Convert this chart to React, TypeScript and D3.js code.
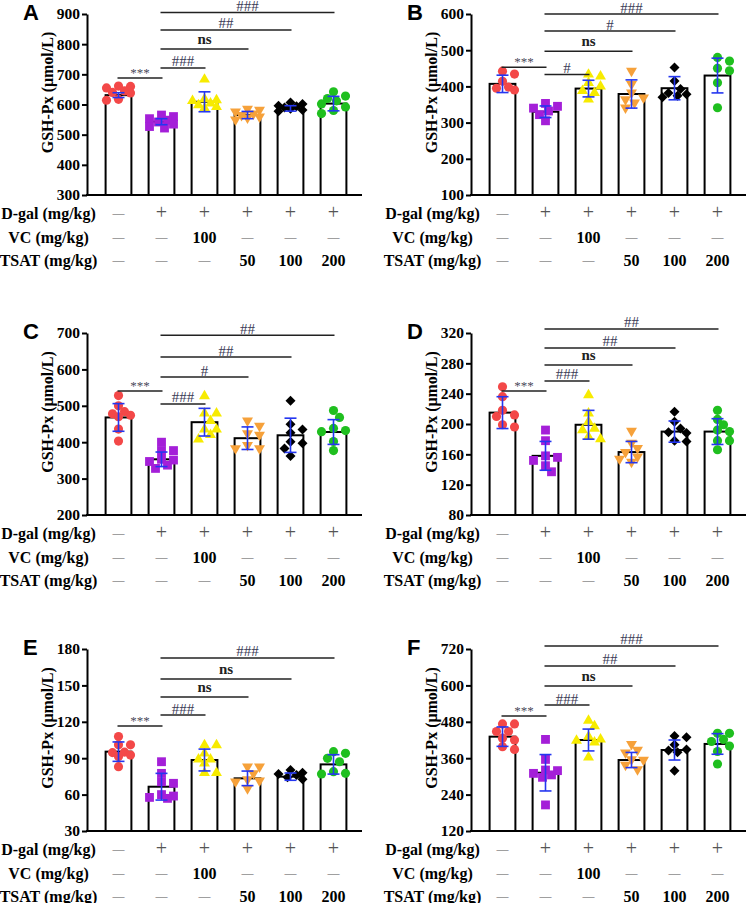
import React, { useEffect, useRef } from "react";
import * as d3 from "d3";

// table under each panel ---------------------------------------------
const tableLabels = ["D-gal (mg/kg)", "VC (mg/kg)", "TSAT (mg/kg)"];
const dgalRow = ["—", "+", "+", "+", "+", "+"];
const vcRow = ["—", "—", "100", "—", "—", "—"];
const tsatRow = ["—", "—", "—", "50", "100", "200"];

const yLabel = "GSH-Px (μmol/L)";
const groupColors = ["#f34848", "#a41fd8", "#f7eb00", "#f6a13a", "#000000", "#1fbf1f"];

// panel A
const ticksA = [300, 400, 500, 600, 700, 800, 900];
const meansA = [631, 543, 609, 565, 587, 603];
const sdA = [8, 10, 33, 12, 9, 24];
const pointsA = [
  [660, 655, 661, 640, 638, 617, 614, 645],
  [565, 560, 553, 548, 542, 535, 527, 522],
  [683, 618, 612, 604, 598, 592, 588, 615],
  [585, 582, 576, 570, 565, 560, 556, 550],
  [607, 602, 596, 590, 586, 582, 578, 594],
  [642, 628, 620, 612, 602, 592, 580, 570],
];
const sigA: [number, number, number, string][] = [
  [0, 1, 688, "***"], [1, 2, 721, "###"], [1, 3, 784, "ns"], [1, 4, 847, "##"], [1, 5, 905, "###"],
];

// panel B
const ticksB = [100, 200, 300, 400, 500, 600];
const meansB = [407, 330, 394, 379, 395, 430];
const sdB = [24, 16, 23, 39, 32, 48];
const pointsB = [
  [442, 434, 414, 398, 395, 390],
  [353, 345, 340, 332, 322, 305],
  [433, 428, 410, 400, 388, 382, 364],
  [443, 406, 383, 369, 355, 341, 364],
  [452, 415, 393, 382, 378, 370, 374],
  [480, 470, 450, 443, 410, 341],
];
const sigB: [number, number, number, string][] = [
  [0, 1, 453, "***"], [1, 2, 433, "#"], [1, 3, 497, "ns"], [1, 4, 553, "#"], [1, 5, 600, "###"],
];

// panel C
const ticksC = [200, 300, 400, 500, 600, 700];
const meansC = [468, 353, 455, 411, 419, 428];
const sdC = [38, 20, 38, 31, 47, 34];
const pointsC = [
  [528, 500, 484, 478, 474, 470, 436, 403],
  [400, 377, 377, 353, 351, 347, 337, 328],
  [527, 479, 479, 459, 435, 435, 420, 408],
  [459, 445, 424, 420, 392, 383, 383],
  [514, 449, 435, 426, 401, 397, 383, 362],
  [487, 468, 438, 432, 429, 402, 377],
];
const sigC: [number, number, number, string][] = [
  [0, 1, 541, "***"], [1, 2, 505, "###"], [1, 3, 579, "#"], [1, 4, 634, "##"], [1, 5, 694, "##"],
];

// panel D
const ticksD = [80, 120, 160, 200, 240, 280, 320];
const meansD = [215, 158, 199, 163, 190, 190];
const sdD = [21, 19, 19, 14, 14, 17];
const pointsD = [
  [249, 236, 218, 212, 210, 199, 196],
  [192, 178, 158, 156, 152, 145, 137],
  [238, 214, 203, 194, 192, 183, 180],
  [191, 175, 168, 163, 157, 150, 154],
  [216, 203, 194, 189, 188, 177, 178],
  [218, 206, 199, 192, 190, 178, 178, 166],
];
const sigD: [number, number, number, string][] = [
  [0, 1, 243.6, "***"], [1, 2, 256.8, "###"], [1, 3, 277.9, "ns"], [1, 4, 300.3, "##"], [1, 5, 325.4, "##"],
];

// panel E
const ticksE = [30, 60, 90, 120, 150, 180];
const meansE = [95.4, 66.5, 88.5, 73.4, 74.8, 84.9];
const sdE = [8, 11, 9, 6, 3, 8];
const pointsE = [
  [107.8, 101, 101, 95, 94.6, 92.6, 91.3, 83],
  [87.1, 77.5, 70.6, 69.3, 60, 58.8, 57.7, 56.9],
  [100.9, 100.9, 94, 89, 89, 85.8, 78, 78],
  [83, 83, 77.5, 72.6, 71.5, 70.6, 65.1],
  [80.3, 78, 76.1, 74.2, 72.6, 77],
  [95.4, 94, 89.9, 87.1, 78.9, 77.5, 77],
];
const sigE: [number, number, number, string][] = [
  [0, 1, 116.5, "***"], [1, 2, 125.6, "###"], [1, 3, 140.4, "ns"], [1, 4, 155.3, "ns"], [1, 5, 172.6, "###"],
];

// panel F
const ticksF = [120, 240, 360, 480, 600, 720];
const meansF = [431, 312, 420, 354, 387, 407];
const sdF = [32, 60, 36, 25, 33, 34];
const pointsF = [
  [473, 473, 448, 448, 426, 420, 398, 389],
  [422, 356, 321, 319, 310, 305, 297, 206],
  [484, 466, 431, 422, 418, 412, 363],
  [406, 387, 378, 356, 354, 338, 323],
  [433, 429, 404, 389, 385, 380, 319],
  [442, 442, 422, 415, 400, 382, 341],
];
const sigF: [number, number, number, string][] = [
  [0, 1, 499, "***"], [1, 2, 535, "###"], [1, 3, 598, "ns"], [1, 4, 664, "##"], [1, 5, 730, "###"],
];

const panels = [
  { letter: "A", ticks: ticksA, means: meansA, sd: sdA, points: pointsA, sig: sigA },
  { letter: "B", ticks: ticksB, means: meansB, sd: sdB, points: pointsB, sig: sigB },
  { letter: "C", ticks: ticksC, means: meansC, sd: sdC, points: pointsC, sig: sigC },
  { letter: "D", ticks: ticksD, means: meansD, sd: sdD, points: pointsD, sig: sigD },
  { letter: "E", ticks: ticksE, means: meansE, sd: sdE, points: pointsE, sig: sigE },
  { letter: "F", ticks: ticksF, means: meansF, sd: sdF, points: pointsF, sig: sigF },
];

// layout
const colAxisX = [87, 471];
const rowTop = [14, 333, 649];
const rowBottom = [195, 515, 831];
const SERIF = "Liberation Serif";
const SANS = "Liberation Sans";

// spreads points sideways so markers don't sit on top of each other
function spread(ys: number[], minDist: number) {
  const order = d3.range(ys.length).sort((a, b) => ys[a] - ys[b]);
  const cands = [0, 6, -6, 12, -12, 3, -3, 9, -9];
  const placed: [number, number][] = [];
  const offs = new Array(ys.length).fill(0);
  order.forEach((i) => {
    let best = 0, bestD = -1;
    for (const c of cands) {
      let d = Infinity;
      placed.forEach(([px, py]) => { d = Math.min(d, Math.hypot(px - c, py - ys[i])); });
      if (d >= minDist) { best = c; bestD = d; break; }
      if (d > bestD) { bestD = d; best = c; }
    }
    offs[i] = best;
    placed.push([best, ys[i]]);
  });
  return offs;
}

const App = () => {
  const ref = useRef<SVGSVGElement>(null);

  useEffect(() => {
    draw();
  }, []);

  function draw() {
    const svg = d3.select(ref.current);
    svg.selectAll("*").remove();

    const shapes = [
      d3.symbol().type(d3.symbolCircle).size(66),
      d3.symbol().type(d3.symbolSquare).size(78),
      d3.symbol().type(d3.symbolTriangle).size(52),
      d3.symbol().type(d3.symbolTriangle).size(52),
      d3.symbol().type(d3.symbolSquare).size(50),
      d3.symbol().type(d3.symbolCircle).size(66),
    ];
    const rotations = [0, 0, 0, 180, 45, 0];

    panels.forEach((p, pi) => {
      const ax = colAxisX[pi % 2];
      const top = rowTop[Math.floor(pi / 2)];
      const bottom = rowBottom[Math.floor(pi / 2)];
      const g = svg.append("g").style("font-family", SERIF);

      const x = d3.scaleBand<number>()
        .domain(d3.range(6))
        .range([ax + 10, ax + 10 + 258])
        .paddingInner(0.4)
        .paddingOuter(0.2);
      const cx = (i: number) => (x(i) as number) + x.bandwidth() / 2;
      const y = d3.scaleLinear()
        .domain([p.ticks[0], p.ticks[p.ticks.length - 1]])
        .range([bottom, top]);

      // bars
      g.selectAll(".bar")
        .data(p.means)
        .enter()
        .append("rect")
        .attr("x", (d, i) => x(i) as number)
        .attr("width", x.bandwidth())
        .attr("y", (d) => y(d))
        .attr("height", (d) => bottom - y(d))
        .attr("fill", "white")
        .attr("stroke", "black")
        .attr("stroke-width", 2);

      // scatter points
      p.points.forEach((vals, gi) => {
        const offs = spread(vals.map((v) => y(v)), 8);
        g.selectAll(null)
          .data(vals)
          .enter()
          .append("path")
          .attr("d", shapes[gi] as any)
          .attr("transform", (d, k) => `translate(${cx(gi) + offs[k]},${y(d)}) rotate(${rotations[gi]})`)
          .attr("fill", groupColors[gi]);
      });

      // error bars (mean ± SD)
      p.means.forEach((m, i) => {
        const c = cx(i);
        const hi = y(m + p.sd[i]);
        const lo = y(m - p.sd[i]);
        const eb = g.append("g").attr("stroke", "#2436f0").attr("stroke-width", 1.6);
        eb.append("line").attr("x1", c).attr("x2", c).attr("y1", hi).attr("y2", lo);
        eb.append("line").attr("x1", c - 6).attr("x2", c + 6).attr("y1", hi).attr("y2", hi);
        eb.append("line").attr("x1", c - 6).attr("x2", c + 6).attr("y1", lo).attr("y2", lo);
      });

      // y axis
      const yAxis = g.append("g")
        .attr("transform", `translate(${ax},0)`)
        .call(d3.axisLeft(y).tickValues(p.ticks).tickSize(5).tickSizeOuter(0).tickPadding(2));
      yAxis.attr("font-family", null);
      yAxis.select(".domain").attr("stroke-width", 2);
      yAxis.selectAll(".tick line").attr("stroke-width", 2);
      yAxis.selectAll("text")
        .style("font-family", SERIF)
        .style("font-weight", "bold")
        .style("font-size", "15.5px")
        .attr("fill", "black");

      // x axis baseline
      g.append("line")
        .attr("x1", ax - 1).attr("x2", ax + 275)
        .attr("y1", bottom).attr("y2", bottom)
        .attr("stroke", "black").attr("stroke-width", 2);

      // y label
      g.append("text")
        .attr("transform", `translate(${ax - 34.5},${(top + bottom) / 2 - 12}) rotate(-90)`)
        .attr("text-anchor", "middle")
        .style("font-weight", "bold")
        .style("font-size", "16px")
        .text(yLabel);

      // panel letter
      g.append("text")
        .attr("x", ax - 64)
        .attr("y", top + 6)
        .style("font-family", SANS)
        .style("font-weight", "bold")
        .style("font-size", "22px")
        .text(p.letter);

      // significance lines
      p.sig.forEach(([a, b, v, label]) => {
        const ly = y(v);
        g.append("line")
          .attr("x1", cx(a) - 1).attr("x2", cx(b) + 1)
          .attr("y1", ly).attr("y2", ly)
          .attr("stroke", "#222").attr("stroke-width", 1.5);
        const t = g.append("text")
          .attr("x", (cx(a) + cx(b)) / 2)
          .attr("text-anchor", "middle")
          .text(label);
        if (label === "ns") {
          t.attr("y", ly - 5).style("font-size", "15px").style("font-weight", "bold").attr("fill", "#222");
        } else if (label === "***") {
          t.attr("y", ly - 1).style("font-size", "13px").attr("fill", "#4a4a5a");
        } else {
          t.attr("y", ly - 1.5).style("font-size", "15px").attr("fill", "#3a3a55");
        }
      });

      // treatment table
      const rows = [dgalRow, vcRow, tsatRow];
      const rowOff = [18, 42, 65];
      rows.forEach((row, r) => {
        const cy = bottom + rowOff[r];
        g.append("text")
          .attr("x", ax - 38.5)
          .attr("y", cy + 5.5)
          .attr("text-anchor", "middle")
          .style("font-weight", "bold")
          .style("font-size", "16px")
          .text(tableLabels[r]);
        row.forEach((cell, i) => {
          const t = g.append("text")
            .attr("x", cx(i))
            .attr("text-anchor", "middle")
            .text(cell);
          if (cell === "+") {
            t.attr("y", cy + 6).style("font-size", "20px").attr("fill", "#555");
          } else if (cell === "—") {
            t.attr("y", cy + 3.5).style("font-size", "12px").attr("fill", "#555");
          } else {
            t.attr("y", cy + 5.5).style("font-size", "16px").style("font-weight", "bold").attr("fill", "black");
          }
        });
      });
    });
  }

  return (
    <div style={{ position: "absolute", left: 0, top: 0 }}>
      <svg ref={ref} width={750} height={903} style={{ display: "block", background: "white" }}></svg>
    </div>
  );
};

export default App;
